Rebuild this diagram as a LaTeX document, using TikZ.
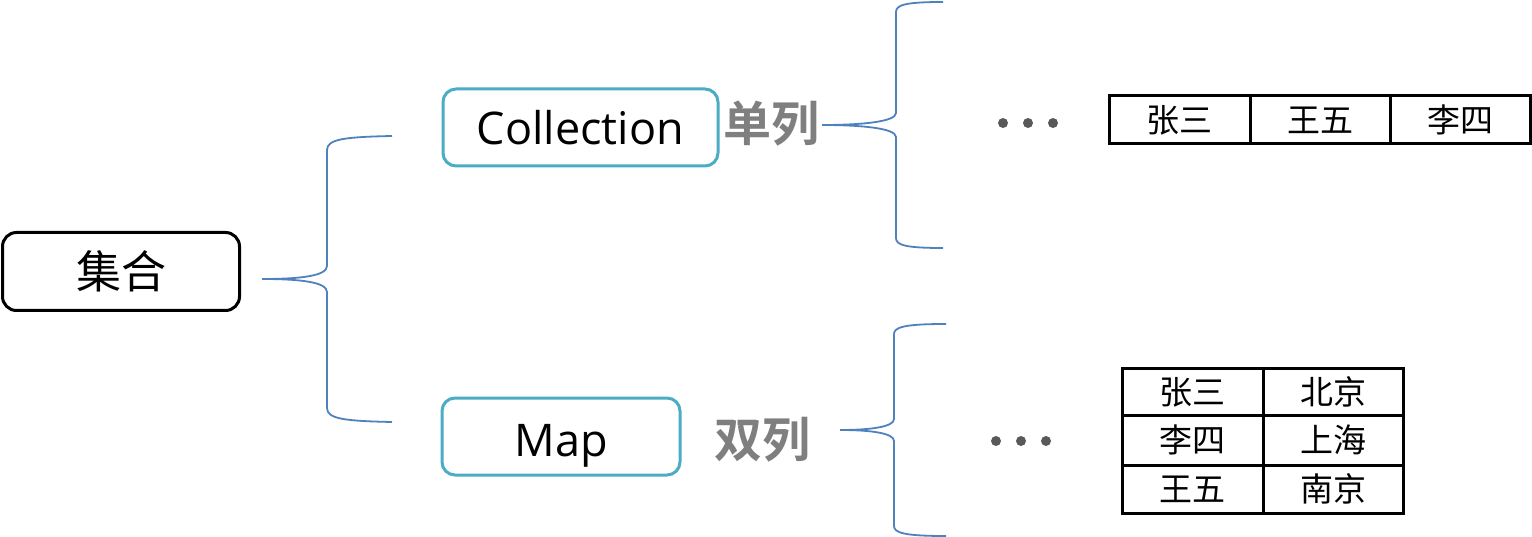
\documentclass[tikz,border=0pt]{standalone}
\usepackage{fontspec}
\setmainfont{Open Sans}
\newfontfamily\cjk{Noto Sans CJK SC}
\newfontfamily\cjkb{Noto Sans CJK SC Bold}
\definecolor{bracecol}{HTML}{4F81BD}
\definecolor{teal}{HTML}{4BACC6}
\definecolor{labgray}{HTML}{7F7F7F}
\definecolor{dotgray}{HTML}{595959}
\tikzset{
  rootbox/.style={draw=black, line width=3pt, rounded corners=14pt, fill=white, minimum width=237pt, minimum height=78pt, inner sep=0pt, font=\cjk\fontsize{45}{50}\selectfont},
  childbox/.style={draw=teal, line width=3pt, rounded corners=13pt, fill=white, minimum height=77pt, inner sep=0pt, text depth=0pt, font=\fontsize{45}{50}\selectfont},
  kindlabel/.style={text=labgray, inner sep=0pt, font=\cjkb\fontsize{48}{52}\selectfont},
  bracepath/.style={draw=bracecol, line width=1.8pt},
  dotnode/.style={circle, fill=dotgray, minimum size=10pt, inner sep=0pt},
  cell/.style={draw=black, line width=3pt, inner sep=0pt, font=\cjk\fontsize{33}{36}\selectfont},
}
\begin{document}
\begin{tikzpicture}[x=1pt,y=-1pt]
\useasboundingbox (0,0) rectangle (1532,537);

% root
\node[rootbox] (root) at (121,271.5) {集合};

% children
\node[childbox, minimum width=275pt, text height=34pt] (coll) at (580.5,127.5) {Collection};
\node[childbox, minimum width=238pt, text height=40pt] (map) at (561,436.5) {Map};
\node[kindlabel] (lab1) at (771,124) {单列};
\node[kindlabel] (lab2) at (762,440) {双列};

% brace 1
\coordinate (b1tip) at (262,279);
\coordinate (b1top) at (392,136);
\coordinate (b1bot) at (392,422);
\path[bracepath] (b1top) .. controls (345,137) and (327,139) .. (327,150)
  -- (327,266) .. controls (327,276) and (300,279) .. (b1tip)
  .. controls (300,279) and (327,282) .. (327,292)
  -- (327,408) .. controls (327,419) and (345,421) .. (b1bot);

% brace 2
\coordinate (b2tip) at (822,125);
\coordinate (b2top) at (943,2);
\coordinate (b2bot) at (943,248);
\path[bracepath] (b2top) .. controls (905,2) and (896,5) .. (896,12)
  -- (896,113) .. controls (896,122) and (860,125) .. (b2tip)
  .. controls (860,125) and (896,128) .. (896,137)
  -- (896,238) .. controls (896,245) and (905,248) .. (b2bot);

% brace 3
\coordinate (b3tip) at (840,430);
\coordinate (b3top) at (946,324);
\coordinate (b3bot) at (946,536);
\path[bracepath] (b3top) .. controls (905,324) and (894,327) .. (894,334)
  -- (894,419) .. controls (894,427) and (870,430) .. (b3tip)
  .. controls (870,430) and (894,433) .. (894,441)
  -- (894,526) .. controls (894,533) and (905,536) .. (b3bot);

% dots
\node[dotnode] (d1) at (1003,123) {};
\node[dotnode] (d2) at (1028,123) {};
\node[dotnode] (d3) at (1053,123) {};
\node[dotnode] (d4) at (996,441) {};
\node[dotnode] (d5) at (1021,441) {};
\node[dotnode] (d6) at (1046,441) {};

% table 1
\node[cell, minimum width=141pt, minimum height=48pt] (t11) at (1179.5,120) {张三};
\node[cell, minimum width=140pt, minimum height=48pt] (t12) at (1320,120) {王五};
\node[cell, minimum width=140pt, minimum height=48pt] (t13) at (1460,120) {李四};

% table 2
\node[cell, minimum width=141pt, minimum height=46pt] (u11) at (1192.5,392) {张三};
\node[cell, minimum width=140pt, minimum height=46pt] (u12) at (1333,392) {北京};
\node[cell, minimum width=141pt, minimum height=50pt] (u21) at (1192.5,440) {李四};
\node[cell, minimum width=140pt, minimum height=50pt] (u22) at (1333,440) {上海};
\node[cell, minimum width=141pt, minimum height=48pt] (u31) at (1192.5,489) {王五};
\node[cell, minimum width=140pt, minimum height=48pt] (u32) at (1333,489) {南京};
\end{tikzpicture}
\end{document}
